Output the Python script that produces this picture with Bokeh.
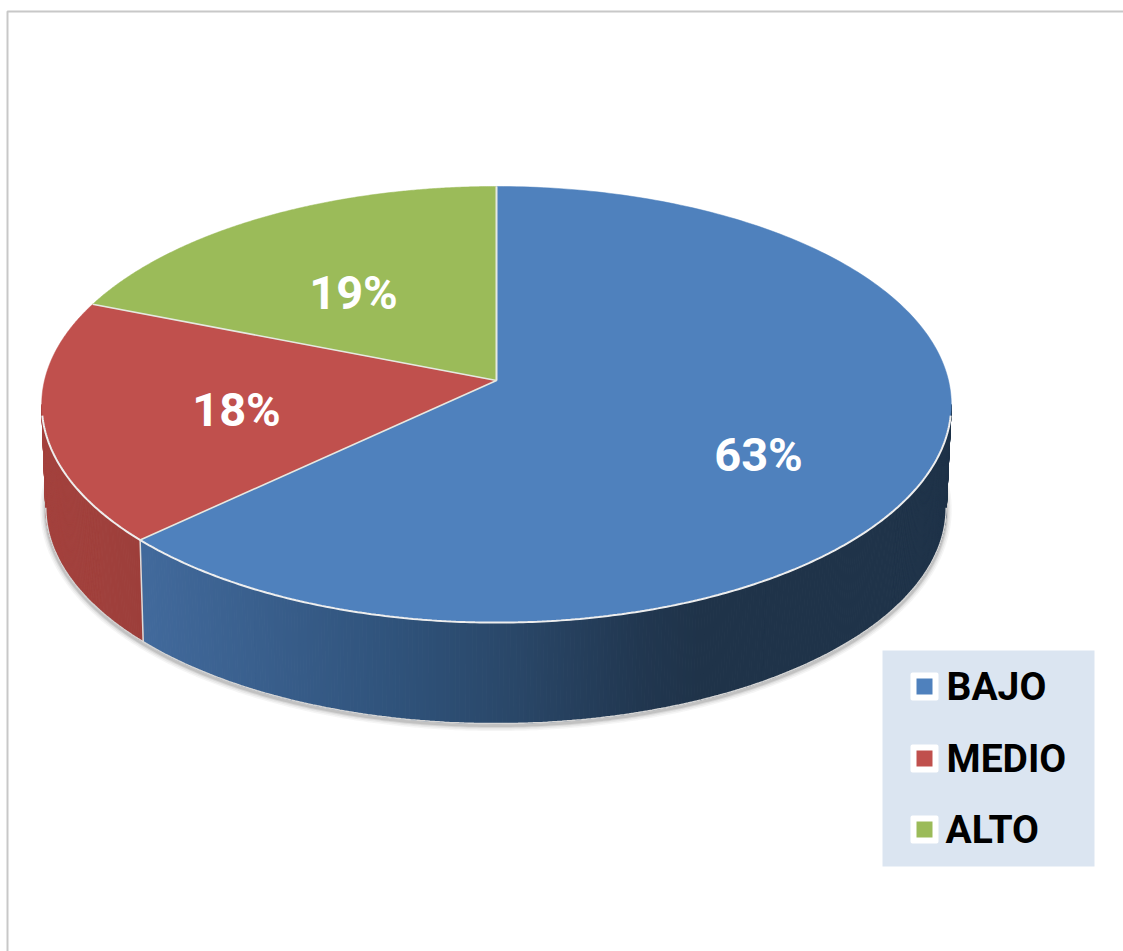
import numpy as np
from bokeh.core.properties import value
from bokeh.embed import file_html
from bokeh.models import Range1d
from bokeh.plotting import figure
from bokeh.resources import INLINE

# Survey result shares
categories = ["BAJO", "MEDIO", "ALTO"]
shares = [63, 18, 19]
top_colors = ["#4f81bd", "#c0504d", "#9bbb59"]

# Wall shading, as (screen x, colour) stops for each slice
wall_stops = [
    [(148, "#41699b"), (400, "#2f527a"), (520, "#294667"), (640, "#213750"), (700, "#1f3349"), (951, "#1f3349")],
    [(40, "#a4423e"), (148, "#9c3e3a")],
    [(40, "#7d9648"), (951, "#7d9648")],
]

# Tilted disc geometry: perspective projection of a unit circle
CX, CY, AX, BY, K = 496.0, 380.0, 452.0, 215.4, 0.1102
LOW_CX, LOW_CY, LOW_S = 495.5, 483.4, 0.99

LABEL_POS = [(758, 454), (236, 409), (353, 292)]
LEGEND_BOX = (882, 1094, 650, 866)
LEGEND_ROW_MID = [686, 758, 829]
LEGEND_TEXT_X = [946, 946, 945]


def rim(theta, cx=CX, cy=CY, s=1.0):
    """Project angle(s), clockwise from the top, on to the disc's edge."""
    x, y = np.sin(theta), np.cos(theta)
    w = 1 + K * y
    return cx + s * AX * x / w, cy - s * BY * y / w


def hex_rgb(c):
    return np.array([int(c[i:i + 2], 16) for i in (1, 3, 5)], dtype=float)


def shade(stops, x):
    xs = [a for a, _ in stops]
    rgb = np.array([hex_rgb(c) for _, c in stops])
    vals = [np.interp(x, xs, rgb[:, i]) for i in range(3)]
    return "#%02x%02x%02x" % tuple(int(round(v)) for v in vals)


p = figure(
    width=1123, height=951, output_backend="svg", toolbar_location=None,
    x_range=Range1d(0, 1123), y_range=Range1d(951, 0),
    min_border=0, outline_line_color=None,
)
p.axis.visible = False
p.grid.visible = False
p.background_fill_color = "white"
p.border_fill_color = "white"

# Outer frame of the chart area
p.line([7, 7, 1123], [951, 11, 11], line_color="#c8c8c8", line_width=2)

edges = 2 * np.pi * np.cumsum([0] + shares) / sum(shares)
front_start = np.arccos(-K)
front_end = 2 * np.pi - front_start

# Soft shadow under the lower edge of the disc
sweep = np.linspace(front_start - 0.22, front_end + 0.22, 400)
sx, sy = rim(sweep, LOW_CX, LOW_CY + 2, LOW_S)
for width, alpha in [(11, 0.05), (8, 0.07), (5, 0.10), (3, 0.14)]:
    p.line(sx, sy, line_color="#404040", line_width=width, line_alpha=alpha)

# Side wall, built from thin strips so that the shading can vary along it
for start, stop, stops in zip(edges[:-1], edges[1:], wall_stops):
    a, b = max(start, front_start), min(stop, front_end)
    if a >= b:
        continue
    t = np.linspace(a, b, max(2, int((b - a) * 150)))
    ux, uy = rim(t)
    lx, ly = rim(t, LOW_CX, LOW_CY, LOW_S)
    xs, ys, cols = [], [], []
    for i in range(len(t) - 1):
        xs.append([ux[i], ux[i + 1], lx[i + 1], lx[i]])
        ys.append([uy[i], uy[i + 1], ly[i + 1], ly[i]])
        cols.append(shade(stops, (ux[i] + ux[i + 1]) / 2))
    p.patches(xs, ys, fill_color=cols, line_color=cols, line_width=1)

# Pale highlights on the wall's lower edge and on its slice seams
t = np.linspace(front_start, front_end, 300)
lx, ly = rim(t, LOW_CX, LOW_CY, LOW_S)
p.line(lx, ly, line_color="#d4d4d4", line_width=1.5)
for e in edges:
    if front_start < e < front_end:
        ux, uy = rim(e)
        bx, by = rim(e, LOW_CX, LOW_CY, LOW_S)
        p.line([ux, bx], [uy, by], line_color="#dcdcdc", line_width=1.5)

# Top face of the pie
for start, stop, color in zip(edges[:-1], edges[1:], top_colors):
    t = np.linspace(start, stop, 240)
    x, y = rim(t)
    p.patch(np.r_[CX, x], np.r_[CY, y], fill_color=color, line_color=color, line_width=0.5)

# Pale seams around the front of the top face and between the slices
t = np.linspace(front_start + 0.05, front_end - 0.05, 300)
x, y = rim(t)
p.line(x, y, line_color="#eeeeee", line_width=2)
for e in edges:
    x, y = rim(e)
    p.line([CX, x], [CY, y], line_color="#e6e9e2", line_width=1.6)

# Percentage labels
font = value("Roboto")
p.text(
    [a for a, _ in LABEL_POS], [b for _, b in LABEL_POS], text=[f"{s}%" for s in shares],
    text_color="white", text_font=font, text_font_style="bold", text_font_size="47px",
    text_align="center", text_baseline="middle",
)

# Legend panel
x0, x1, y0, y1 = LEGEND_BOX
p.quad(left=[x0], right=[x1], top=[y0], bottom=[y1], fill_color="#dbe5f1", line_color=None)
for mid, tx, name, color in zip(LEGEND_ROW_MID, LEGEND_TEXT_X, categories, top_colors):
    p.quad(left=[912], right=[936], top=[mid - 12], bottom=[mid + 12],
           fill_color="white", line_color="white", line_width=4, line_join="round")
    p.quad(left=[916], right=[932], top=[mid - 8], bottom=[mid + 8], fill_color=color, line_color=None)
    p.text([tx], [mid], text=[name], text_color="black", text_font=font, text_font_style="bold",
           text_font_size="39px", text_align="left", text_baseline="middle")

open("out.html", "w").write(file_html(p, INLINE))
